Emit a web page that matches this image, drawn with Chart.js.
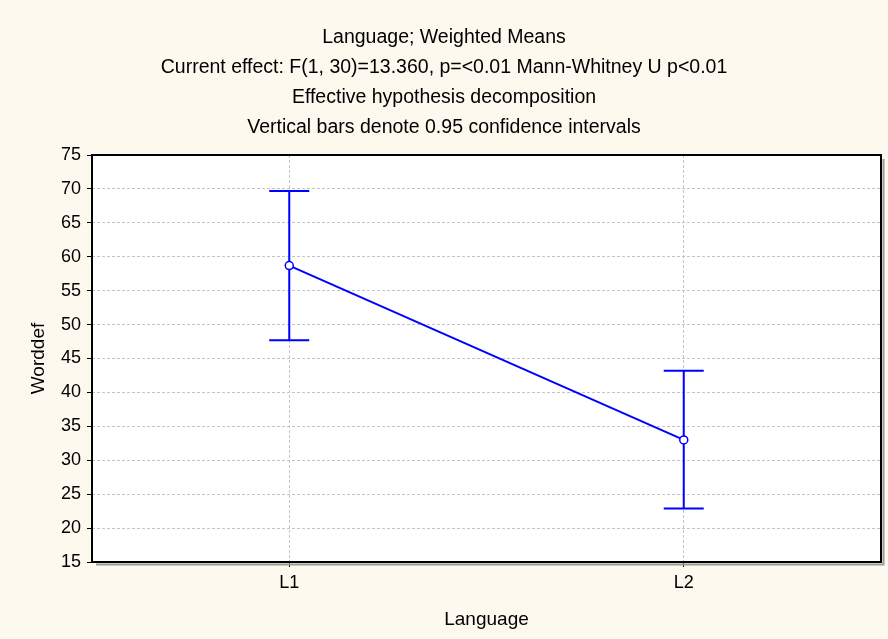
<!DOCTYPE html>
<html>
<head>
<meta charset="utf-8">
<script src="https://cdn.jsdelivr.net/npm/chart.js@4.4.1/dist/chart.umd.min.js"></script>
<style>
  html, body { margin: 0; padding: 0; background: #FEF9EE; }
  #wrap { width: 888px; height: 639px; }
</style>
</head>
<body>
<div id="wrap"><canvas id="c" width="888" height="639"></canvas></div>
<script>
// Weighted means of Worddef by Language, with 0.95 confidence intervals
const categories = ['L1', 'L2'];
const means = [58.7, 33.0];
const ciLower = [47.7, 22.9];
const ciUpper = [69.7, 43.2];
const yTickValues = [15, 20, 25, 30, 35, 40, 45, 50, 55, 60, 65, 70, 75];
const titleLines = [
  'Language; Weighted Means',
  'Current effect: F(1, 30)=13.360, p=<0.01 Mann-Whitney U p<0.01',
  'Effective hypothesis decomposition',
  'Vertical bars denote 0.95 confidence intervals'
];

const FONT = "'Liberation Sans', Arial, sans-serif";
const BG = '#FEF9EE';
const BLUE = '#0000FF';
const GRID = '#C4C4C4';

// White plot panel, black frame and a soft drop shadow
const plotFrame = {
  id: 'plotFrame',
  beforeDraw(chart) {
    const { ctx, chartArea: a } = chart;
    ctx.save();
    ctx.fillStyle = BG;
    ctx.fillRect(0, 0, chart.width, chart.height);
    ctx.fillStyle = '#FFFFFF';
    ctx.fillRect(a.left, a.top, a.right - a.left, a.bottom - a.top);
    ctx.restore();
  },
  beforeDatasetsDraw(chart) {
    const { ctx, chartArea: a } = chart;
    ctx.save();
    ctx.strokeStyle = '#9A9A9A';
    ctx.lineWidth = 2;
    ctx.beginPath();
    ctx.moveTo(a.right + 2.5, a.top + 4);
    ctx.lineTo(a.right + 2.5, a.bottom + 2.5);
    ctx.lineTo(a.left + 4, a.bottom + 2.5);
    ctx.stroke();
    ctx.strokeStyle = '#000000';
    ctx.lineWidth = 2;
    ctx.strokeRect(a.left, a.top, a.right - a.left, a.bottom - a.top);
    ctx.restore();
  }
};

// Vertical confidence-interval whiskers with caps, placed through the chart scales
const errorBars = {
  id: 'errorBars',
  beforeDatasetsDraw(chart) {
    const { ctx } = chart;
    const xs = chart.scales.x, ys = chart.scales.y;
    const capHalf = 20;
    ctx.save();
    ctx.strokeStyle = BLUE;
    ctx.lineWidth = 2;
    for (let i = 0; i < categories.length; i++) {
      const px = xs.getPixelForValue(i);
      const top = ys.getPixelForValue(ciUpper[i]);
      const bot = ys.getPixelForValue(ciLower[i]);
      ctx.beginPath();
      ctx.moveTo(px, top);
      ctx.lineTo(px, bot);
      ctx.moveTo(px - capHalf, top);
      ctx.lineTo(px + capHalf, top);
      ctx.moveTo(px - capHalf, bot);
      ctx.lineTo(px + capHalf, bot);
      ctx.stroke();
    }
    ctx.restore();
  }
};

new Chart(document.getElementById('c'), {
  type: 'line',
  data: {
    labels: categories,
    datasets: [{
      label: 'Worddef',
      data: means,
      borderColor: BLUE,
      borderWidth: 2,
      tension: 0,
      pointRadius: 4,
      pointBackgroundColor: '#FFFFFF',
      pointBorderColor: BLUE,
      pointBorderWidth: 1.5
    }]
  },
  options: {
    responsive: false,
    devicePixelRatio: 1,
    animation: false,
    layout: { padding: { left: 7, right: 7, top: 0, bottom: 0 } },
    plugins: {
      legend: { display: false },
      tooltip: { enabled: false },
      title: {
        display: true,
        text: titleLines,
        color: '#000',
        font: { family: FONT, size: 19.5, weight: 'normal', lineHeight: '30px' },
        padding: { top: 23, bottom: 12 }
      }
    },
    scales: {
      x: {
        type: 'category',
        offset: true,
        grid: {
          offset: false, color: GRID, lineWidth: 1,
          drawTicks: true, tickLength: 5, tickColor: '#000', tickWidth: 1
        },
        border: { display: false, dash: [3, 2] },
        ticks: { color: '#000', font: { family: FONT, size: 18 }, padding: 5 },
        title: {
          display: true, text: 'Language', color: '#000',
          font: { family: FONT, size: 19 },
          padding: { top: 0, bottom: 8 }
        },
        afterFit(s) { s.height = 77; }
      },
      y: {
        min: 15, max: 75,
        afterBuildTicks(s) { s.ticks = yTickValues.map(v => ({ value: v })); },
        grid: {
          color: GRID, lineWidth: 1,
          drawTicks: true, tickLength: 5, tickColor: '#000', tickWidth: 1
        },
        border: { display: false, dash: [3, 2] },
        ticks: { color: '#000', font: { family: FONT, size: 18 }, padding: 6 },
        title: {
          display: true, text: 'Worddef', color: '#000',
          font: { family: FONT, size: 19 },
          padding: { top: 20, bottom: 0 }
        },
        afterFit(s) { s.width = 85; }
      }
    }
  },
  plugins: [plotFrame, errorBars]
});
</script>
</body>
</html>
